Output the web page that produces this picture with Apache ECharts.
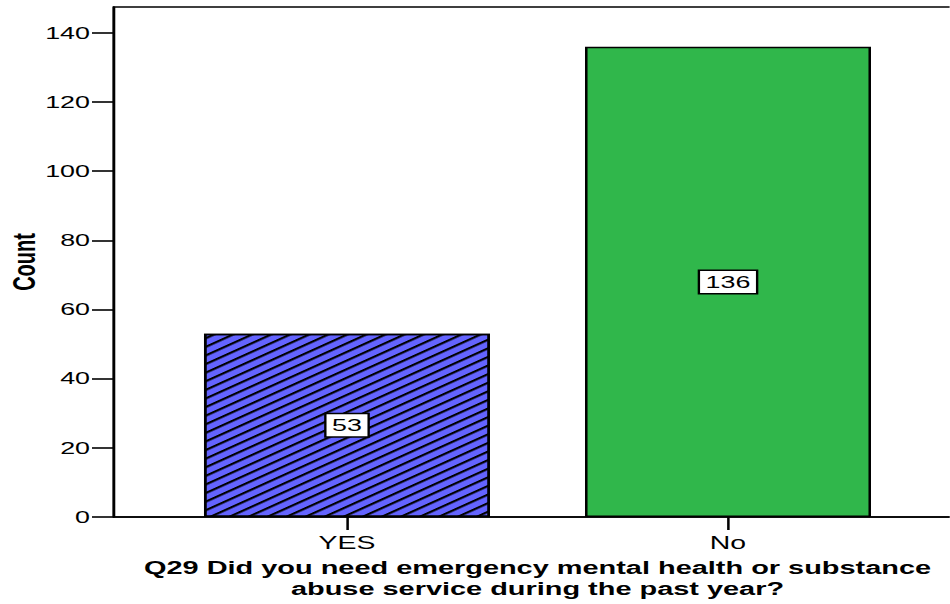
<!DOCTYPE html>
<html>
<head>
<meta charset="utf-8">
<script src="https://cdn.jsdelivr.net/npm/echarts@6/dist/echarts.min.js"></script>
<style>
  html, body { margin: 0; padding: 0; background: #fff; overflow: hidden; }
  #chart { height: 604px; transform-origin: 0 0; }
</style>
</head>
<body>
<div id="chart"></div>
<script>
// Survey answers and counts
const categories = ['YES', 'No'];
const counts = [53, 136];
const countTicks = [0, 20, 40, 60, 80, 100, 120, 140];
const categoryTitle = 'Q29 Did you need emergency mental health or substance\nabuse service during the past year?';
const countTitle = 'Count';

// The chart is laid out narrow and then widened horizontally,
// giving the broad lettering of the original output.
const SX = 1.58;
const PAGE_W = 950;
const hx = v => v / SX;

const el = document.getElementById('chart');
el.style.width = (PAGE_W / SX) + 'px';
el.style.transform = 'scaleX(' + SX + ')';

const FONT = "'Liberation Sans', Arial, Helvetica, sans-serif";
const INK = '#000';

const barStyles = [
  {
    color: '#6464ff',
    borderColor: INK,
    borderWidth: 1.6,
    // diagonal black hatching rising to the right
    decal: {
      symbol: 'rect',
      symbolSize: 1,
      dashArrayX: [1, 0],
      dashArrayY: [1.7, 4.4],
      rotation: -0.62,
      color: '#000'
    }
  },
  { color: '#30b74b', borderColor: INK, borderWidth: 1.6 }
];

const chart = echarts.init(el, null, { renderer: 'svg' });

chart.setOption({
  animation: false,
  backgroundColor: '#fff',
  grid: {
    left: hx(114),
    top: 7,
    width: hx(847),
    bottom: 87,
    outerBoundsMode: 'none',
    containLabel: false,
    show: true,
    borderColor: INK,
    borderWidth: 1.6,
    backgroundColor: 'transparent'
  },
  xAxis: {
    type: 'value',
    min: -0.6115,
    max: 1.6115,
    splitLine: { show: false },
    axisLine: { show: true, onZero: false, lineStyle: { color: INK, width: 1.6 } },
    axisTick: {
      show: true,
      length: 13,
      lineStyle: { color: INK, width: 1.6 },
      customValues: categories.map((c, i) => i)
    },
    axisLabel: {
      customValues: categories.map((c, i) => i),
      formatter: v => categories[Math.round(v)],
      color: INK,
      fontFamily: FONT,
      fontSize: 18,
      margin: 17
    },
    name: categoryTitle,
    nameLocation: 'middle',
    nameGap: 40,
    nameTextStyle: {
      color: INK,
      fontFamily: FONT,
      fontWeight: 'bold',
      fontSize: 18.3,
      lineHeight: 21
    }
  },
  yAxis: {
    type: 'value',
    min: 0,
    max: 147.5,
    splitLine: { show: false },
    axisLine: { show: true, onZero: false, lineStyle: { color: INK, width: 1.6 } },
    axisTick: {
      show: true,
      length: hx(22),
      lineStyle: { color: INK, width: 1.6 },
      customValues: countTicks
    },
    axisLabel: {
      customValues: countTicks,
      color: INK,
      fontFamily: FONT,
      fontSize: 17,
      margin: hx(24)
    },
    name: countTitle,
    nameLocation: 'middle',
    nameRotate: 90,
    nameGap: 47,
    nameMoveOverlap: false,
    nameTextStyle: {
      color: INK,
      fontFamily: FONT,
      fontWeight: 'bold',
      fontSize: 20
    }
  },
  series: [{
    type: 'bar',
    barWidth: hx(286),
    data: categories.map((c, i) => ({
      value: [i, counts[i]],
      itemStyle: barStyles[i]
    })),
    label: {
      show: true,
      position: 'inside',
      formatter: p => String(p.value[1]),
      color: INK,
      fontFamily: FONT,
      fontSize: 17,
      backgroundColor: '#fff',
      borderColor: INK,
      borderWidth: 1.5,
      padding: [3, 3.5, 2, 3.5]
    }
  }]
});
</script>
</body>
</html>
